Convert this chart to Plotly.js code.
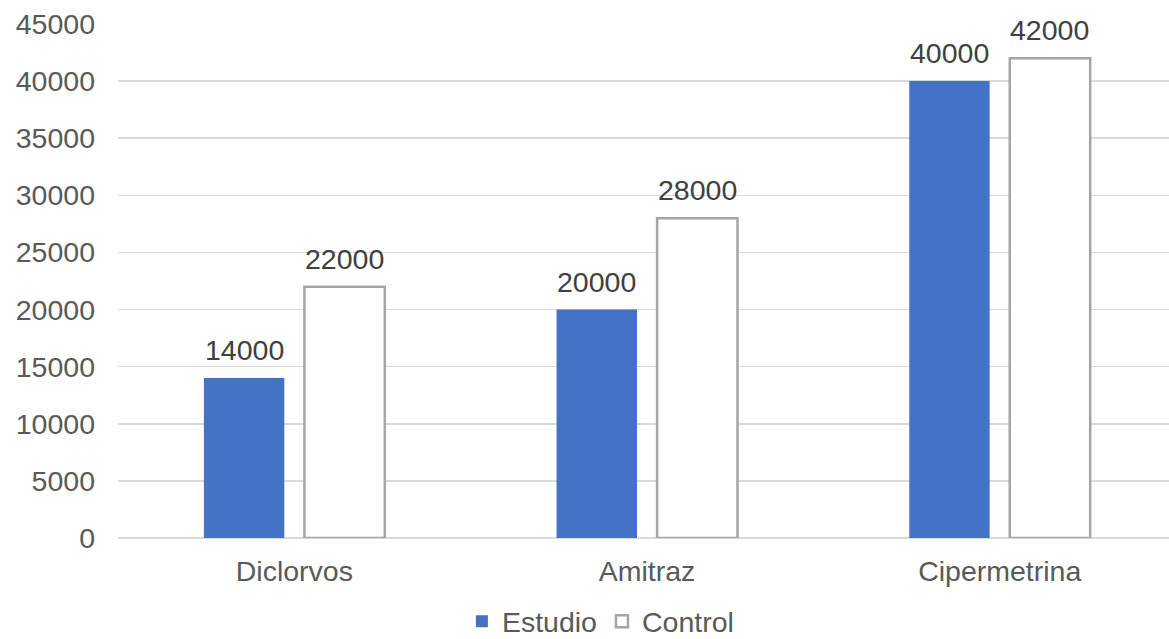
<!DOCTYPE html>
<html>
<head>
<meta charset="utf-8">
<script src="https://cdn.plot.ly/plotly-3.0.1.min.js"></script>
<style>
  html, body { margin: 0; padding: 0; background: #fff; overflow: hidden; }
  #chart { width: 1169px; height: 639px; }
</style>
</head>
<body>
<div id="chart"></div>
<script>
// Insecticide groups and measured values per series
const categories = ['Diclorvos', 'Amitraz', 'Cipermetrina'];
const estudioValues = [14000, 20000, 40000];
const controlValues = [22000, 28000, 42000];
const yTicks = [0, 5000, 10000, 15000, 20000, 25000, 30000, 35000, 40000, 45000];

const FONT = 'Liberation Sans, Arial, sans-serif';
const SIZE = 28.5;

const traces = [
  {
    type: 'bar',
    name: 'Estudio',
    x: categories,
    y: estudioValues,
    marker: { color: '#4472C4', line: { width: 0 } },
    hoverinfo: 'x+y'
  },
  {
    type: 'bar',
    name: 'Control',
    x: categories,
    y: controlValues,
    marker: { color: '#FFFFFF', line: { color: '#A5A5A5', width: 2.5 } },
    hoverinfo: 'x+y'
  }
];

// Value labels sit above each bar; the horizontal shift puts them over
// the left (Estudio) or right (Control) bar of each group.
function valueLabels(values, shift) {
  return values.map((v, i) => ({
    x: categories[i],
    y: v,
    xref: 'x',
    yref: 'y',
    text: String(v),
    showarrow: false,
    xanchor: 'center',
    yanchor: 'bottom',
    xshift: shift,
    yshift: 10,
    font: { family: FONT, size: SIZE, color: '#404040' }
  }));
}

const layout = {
  width: 1169,
  height: 639,
  margin: { l: 118, r: 0, t: 24, b: 101, autoexpand: false },
  paper_bgcolor: '#FFFFFF',
  plot_bgcolor: '#FFFFFF',
  font: { family: FONT, size: SIZE, color: '#595959' },
  barmode: 'group',
  bargap: 0.43,
  bargroupgap: 0.2,
  showlegend: true,
  legend: {
    orientation: 'h',
    x: 0.459, xanchor: 'center',
    y: -0.163, yanchor: 'middle',
    font: { family: FONT, size: SIZE, color: '#595959' },
    traceorder: 'normal',
    itemclick: false
  },
  annotations: valueLabels(estudioValues, -50.25).concat(valueLabels(controlValues, 50.25)),
  xaxis: {
    type: 'category',
    range: [-0.5, 2.48],
    showgrid: false,
    showline: false,
    zeroline: false,
    ticks: '',
    ticklabelstandoff: 13,
    tickfont: { family: FONT, size: SIZE, color: '#595959' }
  },
  yaxis: {
    range: [0, 45000],
    tickvals: yTicks,
    ticktext: yTicks.map(String),
    showgrid: true,
    gridcolor: '#D9D9D9',
    gridwidth: 1.5,
    zeroline: true,
    zerolinecolor: '#D9D9D9',
    zerolinewidth: 1.5,
    showline: false,
    ticks: '',
    ticklabelstandoff: 22,
    tickfont: { family: FONT, size: SIZE, color: '#595959' }
  }
};

Plotly.newPlot('chart', traces, layout, { displayModeBar: false, staticPlot: true });
</script>
</body>
</html>
